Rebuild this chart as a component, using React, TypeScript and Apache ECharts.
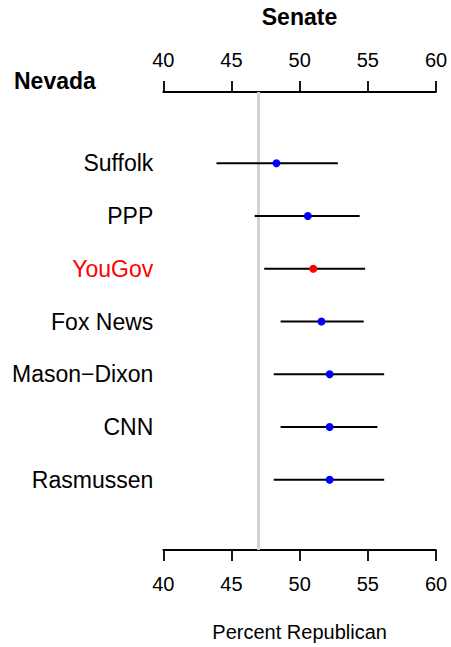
import React, { useEffect, useRef } from "react";
import * as echarts from "echarts";

const pollsters = ["Suffolk", "PPP", "YouGov", "Fox News", "Mason\u2212Dixon", "CNN", "Rasmussen"];
const estimates = [48.3, 50.6, 51.0, 51.6, 52.2, 52.2, 52.2];
const lowerBounds = [43.9, 46.7, 47.4, 48.6, 48.1, 48.6, 48.1];
const upperBounds = [52.8, 54.4, 54.8, 54.7, 56.2, 55.7, 56.2];
const highlighted = ["YouGov"];
const referenceValue = 47;
const xTicks = [40, 45, 50, 55, 60];

const FONT = "'Liberation Sans', Arial, Helvetica, sans-serif";

export default function App() {
  const ref = useRef<HTMLDivElement>(null);
  useEffect(() => {
    if (!ref.current) return;
    const chart = echarts.init(ref.current, null, { renderer: "svg" });
    const rowIdx = pollsters.map((_, i) => i + 1);
    const axisCommon = {
      type: "value" as const,
      min: xTicks[0],
      max: xTicks[xTicks.length - 1],
      interval: 5,
      splitLine: { show: false },
      axisLine: { show: true, onZero: false, lineStyle: { color: "#000", width: 1.8 } },
      axisTick: { show: true, length: 11, lineStyle: { color: "#000", width: 1.8 } },
    };
    chart.setOption({
      animation: false,
      textStyle: { fontFamily: FONT },
      title: [
        {
          text: "Senate",
          left: 294.5,
          top: 0,
          textAlign: "center",
          textStyle: { fontSize: 23, fontWeight: "bold", color: "#000", fontFamily: FONT },
        },
        {
          text: "Nevada",
          left: 9,
          top: 64,
          textStyle: { fontSize: 23, fontWeight: "bold", color: "#000", fontFamily: FONT },
        },
      ],
      grid: { left: 163.3, right: 15, top: 92, bottom: 94 },
      xAxis: [
        {
          ...axisCommon,
          position: "bottom",
          name: "Percent Republican",
          nameLocation: "middle",
          nameGap: 72,
          nameTextStyle: { fontSize: 20, color: "#000", fontFamily: FONT },
          axisLabel: { fontSize: 20, color: "#000", margin: 24, fontFamily: FONT },
        },
        {
          ...axisCommon,
          position: "top",
          axisLabel: { fontSize: 20, color: "#000", margin: 22, fontFamily: FONT },
        },
      ],
      yAxis: {
        type: "value",
        inverse: true,
        min: -0.35,
        max: 8.33,
        show: false,
      },
      series: [
        {
          type: "custom",
          z: 3,
          data: pollsters.map((_, i) => [lowerBounds[i], upperBounds[i], rowIdx[i]]),
          encode: { x: [0, 1], y: 2 },
          renderItem: (params: any, api: any) => {
            const p1 = api.coord([api.value(0), api.value(2)]);
            const p2 = api.coord([api.value(1), api.value(2)]);
            return {
              type: "line",
              shape: { x1: p1[0], y1: p1[1], x2: p2[0], y2: p2[1] },
              style: { stroke: "#000", lineWidth: 2 },
            };
          },
          markLine: {
            silent: true,
            symbol: "none",
            label: { show: false },
            z: 1,
            lineStyle: { color: "#d3d3d3", width: 3, type: "solid" },
            data: [{ xAxis: referenceValue }],
          },
        },
        {
          type: "scatter",
          z: 4,
          symbol: "circle",
          symbolSize: 8,
          itemStyle: { opacity: 1 },
          data: pollsters.map((p, i) => ({
            value: [estimates[i], rowIdx[i]],
            itemStyle: { color: highlighted.includes(p) ? "#ff0000" : "#0000ff", opacity: 1 },
          })),
        },
        {
          type: "scatter",
          z: 4,
          symbolSize: 0,
          silent: true,
          itemStyle: { opacity: 1 },
          label: {
            show: true,
            position: "left",
            distance: 10,
            fontSize: 23,
            fontFamily: FONT,
            color: "#000",
            formatter: (p: any) => pollsters[p.dataIndex],
          },
          data: pollsters.map((p, i) => ({
            value: [xTicks[0], rowIdx[i]],
            label: { color: highlighted.includes(p) ? "#ff0000" : "#000" },
          })),
        },
      ],
    });
    return () => chart.dispose();
  }, []);
  return <div ref={ref} style={{ width: 451, height: 647, position: "absolute", left: 0, top: 0 }} />;
}
